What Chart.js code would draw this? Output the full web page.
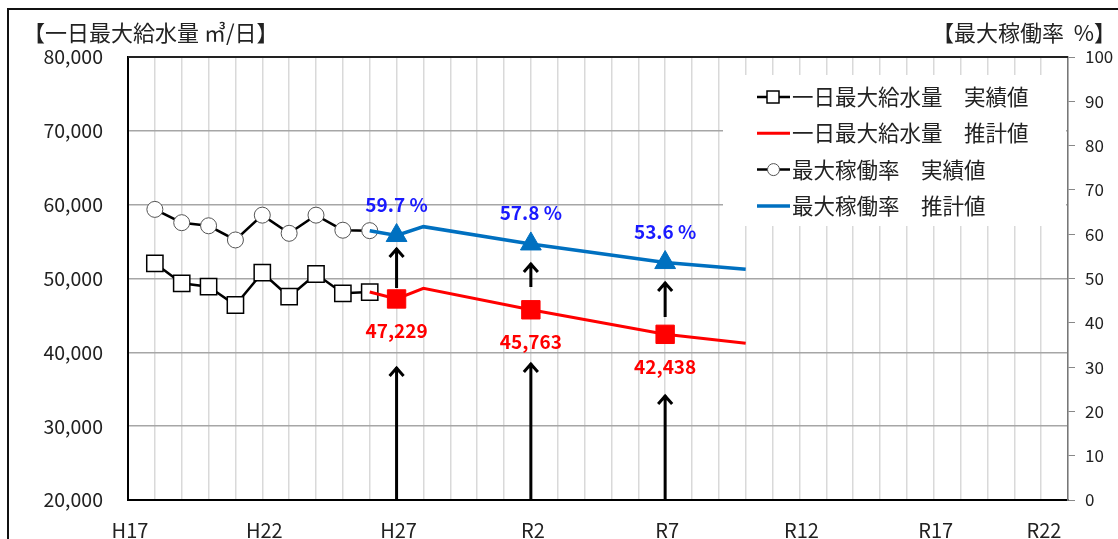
<!DOCTYPE html>
<html>
<head>
<meta charset="utf-8">
<script src="https://cdn.jsdelivr.net/npm/chart.js@4.4.1/dist/chart.umd.min.js"></script>
<style>
  html, body { margin: 0; padding: 0; background: #fff; }
  canvas { display: block; }
</style>
</head>
<body>
<canvas id="waterChart" width="1118" height="539"></canvas>
<script>
// actual values (H18 - H26)
const actualYears = [2006, 2007, 2008, 2009, 2010, 2011, 2012, 2013, 2014];
const supplyActual = [52060, 49350, 48890, 46410, 50780, 47530, 50610, 48000, 48170];
const rateActual = [65.6, 62.6, 61.9, 58.7, 64.3, 60.2, 64.3, 60.9, 60.8];

// forecast values (H26 - R10)
const forecastYears = [2014, 2015, 2016, 2020, 2025, 2028];
const supplyForecast = [48170, 47229, 48670, 45763, 42438, 41220];
const rateForecast = [60.8, 59.7, 61.7, 57.8, 53.6, 52.1];

// years that get a marker, a value label and arrows
const markedYears = [2015, 2020, 2025];
// arrows, in supply axis units
const arrowUpFrom = [48710, 48850, 44780];
const arrowUpTo = [54130, 52100, 49530];
const arrowLowFrom = [20000, 20000, 20000];
const arrowLowTo = [38010, 38550, 34220];

const xTickYears = [2005, 2010, 2015, 2020, 2025, 2030, 2035, 2040];
const xTickLabels = ['H17', 'H22', 'H27', 'R2', 'R7', 'R12', 'R17', 'R22'];

const legendLabels = ['一日最大給水量　実績値', '一日最大給水量　推計値', '最大稼働率　実績値', '最大稼働率　推計値'];

const FONT = "'Noto Sans CJK JP', 'Noto Sans', sans-serif";
const TEXT = '#222';
const RED = '#ff0000';
const BLUE = '#0070c0';

function toPoints(xs, ys) {
    return xs.map(function (x, i) { return {x: x, y: ys[i]}; });
}

function markRadius(r) {
    return function (ctx) {
        const p = ctx.raw;
        return p && markedYears.indexOf(p.x) >= 0 ? r : 0;
    };
}

function arrow(ctx, x, y1, y2) {
    ctx.beginPath();
    ctx.moveTo(x, y1);
    ctx.lineTo(x, y2);
    ctx.moveTo(x - 7, y2 + 9);
    ctx.lineTo(x, y2 + 1);
    ctx.lineTo(x + 7, y2 + 9);
    ctx.stroke();
}

const decor = {
    id: 'decor',
    beforeDraw: function (chart) {
        const ctx = chart.ctx;
        ctx.save();
        ctx.fillStyle = '#fff';
        ctx.fillRect(0, 0, chart.width, chart.height);
        ctx.strokeStyle = '#111';
        ctx.lineWidth = 2;
        ctx.strokeRect(8, 9, chart.width, chart.height);
        ctx.fillStyle = TEXT;
        ctx.font = '22px ' + FONT;
        ctx.textBaseline = 'middle';
        ctx.textAlign = 'left';
        ctx.fillText('【一日最大給水量 ㎥/日】', 23, 33);
        ctx.textAlign = 'right';
        ctx.fillText('【最大稼働率  %】', 1116, 33);
        ctx.restore();
    },
    beforeDatasetsDraw: function (chart) {
        const ctx = chart.ctx;
        const a = chart.chartArea;
        const xs = chart.scales.x;
        const ys = chart.scales.y;
        ctx.save();
        // legend box hides the grid
        ctx.fillStyle = '#fff';
        ctx.fillRect(723, 75, a.right - 2 - 723, 151);
        // top border of plot
        ctx.strokeStyle = '#222';
        ctx.lineWidth = 2;
        ctx.beginPath();
        ctx.moveTo(a.left, a.top);
        ctx.lineTo(a.right, a.top);
        ctx.stroke();
        // arrows
        ctx.strokeStyle = '#000';
        ctx.lineWidth = 3;
        markedYears.forEach(function (yr, i) {
            const px = xs.getPixelForValue(yr);
            arrow(ctx, px, ys.getPixelForValue(arrowUpFrom[i]), ys.getPixelForValue(arrowUpTo[i]));
            arrow(ctx, px, ys.getPixelForValue(arrowLowFrom[i]), ys.getPixelForValue(arrowLowTo[i]));
        });
        ctx.restore();
    },
    afterDatasetsDraw: function (chart) {
        const ctx = chart.ctx;
        const a = chart.chartArea;
        const xs = chart.scales.x;
        const ys = chart.scales.y;
        const y2 = chart.scales.y2;
        ctx.save();

        // value labels
        ctx.font = 'bold 19px ' + FONT;
        ctx.textAlign = 'center';
        ctx.textBaseline = 'middle';
        markedYears.forEach(function (yr) {
            const px = xs.getPixelForValue(yr);
            const i = forecastYears.indexOf(yr);
            ctx.fillStyle = '#1a1aff';
            ctx.fillText(rateForecast[i].toFixed(1) + ' %', px, y2.getPixelForValue(rateForecast[i]) - 31);
            ctx.fillStyle = RED;
            ctx.fillText(supplyForecast[i].toLocaleString('en-US'), px, ys.getPixelForValue(supplyForecast[i]) + 32);
        });

        // x labels
        ctx.fillStyle = TEXT;
        ctx.font = '20px ' + FONT;
        xTickYears.forEach(function (yr, i) {
            const px = Math.min(xs.getPixelForValue(yr), a.right - 26);
            ctx.fillText(xTickLabels[i], px + 2, a.bottom + 30);
        });

        // legend
        const lx = 757, lw = 33, tx = 792;
        ctx.font = '21.5px ' + FONT;
        ctx.textAlign = 'left';
        legendLabels.forEach(function (txt, i) {
            const ly = 97 + i * 36.3;
            const ds = chart.data.datasets[i];
            ctx.strokeStyle = ds.borderColor;
            ctx.lineWidth = ds.borderWidth;
            ctx.beginPath();
            ctx.moveTo(lx, ly);
            ctx.lineTo(lx + lw, ly);
            ctx.stroke();
            if (i === 0) {
                ctx.fillStyle = '#fff';
                ctx.lineWidth = 1.5;
                ctx.fillRect(lx + 10, ly - 6, 12, 12);
                ctx.strokeRect(lx + 10, ly - 6, 12, 12);
            } else if (i === 2) {
                ctx.fillStyle = '#fff';
                ctx.strokeStyle = '#555';
                ctx.lineWidth = 1;
                ctx.beginPath();
                ctx.arc(lx + lw / 2, ly, 6, 0, Math.PI * 2);
                ctx.fill();
                ctx.stroke();
            }
            ctx.fillStyle = TEXT;
            ctx.fillText(txt, tx, ly);
        });
        ctx.restore();
    }
};

const ctx = document.getElementById('waterChart').getContext('2d');
new Chart(ctx, {
    type: 'line',
    data: {
        datasets: [{
            label: legendLabels[0],
            data: toPoints(actualYears, supplyActual),
            yAxisID: 'y',
            borderColor: '#000',
            borderWidth: 2.5,
            pointStyle: 'rect',
            pointRadius: 11.5,
            pointBackgroundColor: '#fff',
            pointBorderColor: '#000',
            pointBorderWidth: 1.5,
            order: 4
        }, {
            label: legendLabels[1],
            data: toPoints(forecastYears, supplyForecast),
            yAxisID: 'y',
            borderColor: RED,
            borderWidth: 3,
            pointStyle: 'rect',
            pointRadius: markRadius(13),
            pointBackgroundColor: RED,
            pointBorderColor: RED,
            pointBorderWidth: 1,
            order: 2
        }, {
            label: legendLabels[2],
            data: toPoints(actualYears, rateActual),
            yAxisID: 'y2',
            borderColor: '#000',
            borderWidth: 2.5,
            pointStyle: 'circle',
            pointRadius: 8,
            pointBackgroundColor: '#fff',
            pointBorderColor: '#555',
            pointBorderWidth: 1,
            order: 3
        }, {
            label: legendLabels[3],
            data: toPoints(forecastYears, rateForecast),
            yAxisID: 'y2',
            borderColor: BLUE,
            borderWidth: 3.5,
            pointStyle: 'triangle',
            pointRadius: markRadius(12),
            pointBackgroundColor: BLUE,
            pointBorderColor: BLUE,
            pointBorderWidth: 1,
            order: 1
        }]
    },
    options: {
        responsive: false,
        animation: false,
        devicePixelRatio: 1,
        layout: {padding: {top: 57, left: 0, right: 0, bottom: 0}},
        plugins: {
            legend: {display: false},
            tooltip: {enabled: false}
        },
        scales: {
            x: {
                type: 'linear',
                min: 2005,
                max: 2040,
                ticks: {stepSize: 1, display: false},
                grid: {color: '#d9d9d9', lineWidth: 1.5, drawTicks: false},
                border: {color: '#000', width: 2},
                afterFit: function (s) { s.height = 39; }
            },
            y: {
                position: 'left',
                min: 20000,
                max: 80000,
                ticks: {
                    stepSize: 10000,
                    padding: 25,
                    color: TEXT,
                    font: {family: FONT, size: 19.5},
                    callback: function (v) { return v.toLocaleString('en-US'); }
                },
                grid: {color: '#a6a6a6', lineWidth: 1.5, drawTicks: false},
                border: {color: '#000', width: 2},
                afterFit: function (s) { s.width = 128; }
            },
            y2: {
                position: 'right',
                min: 0,
                max: 100,
                ticks: {
                    stepSize: 10,
                    padding: 10,
                    color: TEXT,
                    font: {family: FONT, size: 17}
                },
                grid: {drawOnChartArea: false, color: '#888', tickLength: 7},
                border: {color: '#777', width: 1.5},
                afterFit: function (s) { s.width = 50; }
            }
        }
    },
    plugins: [decor]
});
</script>
</body>
</html>
